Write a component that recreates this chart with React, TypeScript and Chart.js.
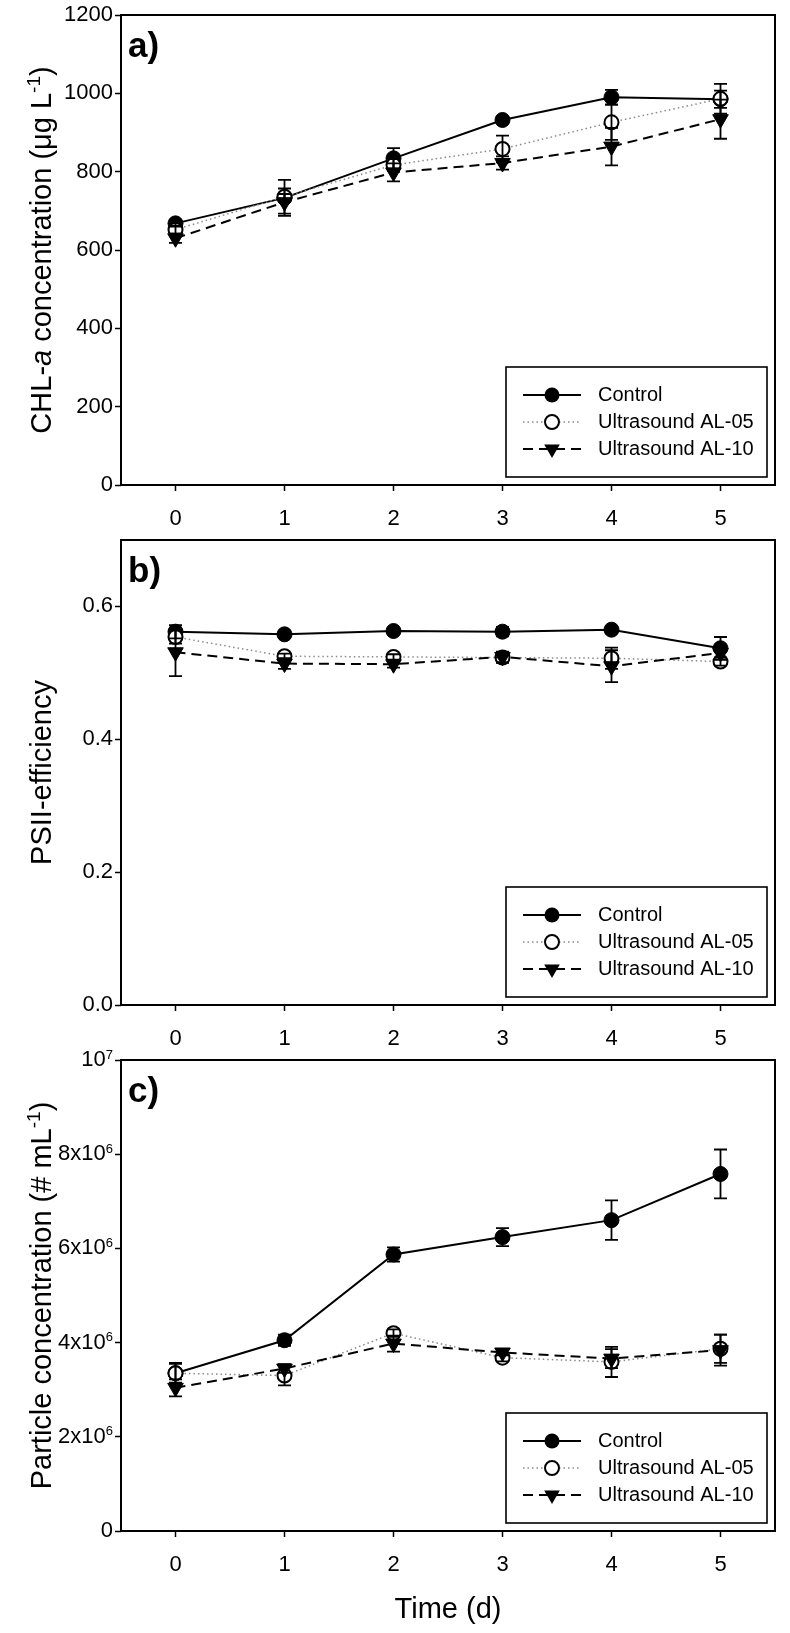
import React, { useEffect, useRef } from 'react';
import { Chart, registerables } from 'chart.js';

Chart.register(...registerables);

const FONT = '"Liberation Sans", Arial, Helvetica, sans-serif';

// ---------- data ----------
const DAYS = ['0', '1', '2', '3', '4', '5'];
const SERIES_NAMES = ['Control', 'Ultrasound AL-05', 'Ultrasound AL-10'];

// a) CHL-a concentration (µg/L)
const CHL_CONTROL = [668, 733, 834, 932, 990, 985];
const CHL_CONTROL_ERR = [8, 10, 26, 8, 19, 22];
const CHL_AL05 = [652, 736, 817, 858, 926, 986];
const CHL_AL05_ERR = [10, 43, 15, 34, 45, 38];
const CHL_AL10 = [630, 722, 798, 822, 864, 934];
const CHL_AL10_ERR = [12, 35, 23, 17, 48, 50];
const CHL_TICKS = [0, 200, 400, 600, 800, 1000, 1200];

// b) PSII efficiency
const PSII_CONTROL = [0.562, 0.558, 0.563, 0.562, 0.565, 0.537];
const PSII_CONTROL_ERR = [0.01, 0.004, 0.003, 0.007, 0.004, 0.017];
const PSII_AL05 = [0.554, 0.525, 0.524, 0.523, 0.522, 0.517];
const PSII_AL05_ERR = [0.01, 0.004, 0.004, 0.008, 0.016, 0.006];
const PSII_AL10 = [0.531, 0.514, 0.513, 0.524, 0.51, 0.53];
const PSII_AL10_ERR = [0.036, 0.008, 0.005, 0.008, 0.024, 0.01];
const PSII_TICKS = [0, 0.2, 0.4, 0.6];

// c) Particle concentration (#/mL)
const PART_CONTROL = [3.35e6, 4.05e6, 5.87e6, 6.24e6, 6.6e6, 7.58e6];
const PART_CONTROL_ERR = [0.2e6, 0.12e6, 0.15e6, 0.19e6, 0.42e6, 0.52e6];
const PART_AL05 = [3.35e6, 3.3e6, 4.2e6, 3.68e6, 3.59e6, 3.87e6];
const PART_AL05_ERR = [0.22e6, 0.21e6, 0.08e6, 0.08e6, 0.32e6, 0.3e6];
const PART_AL10 = [3.04e6, 3.45e6, 3.98e6, 3.79e6, 3.66e6, 3.84e6];
const PART_AL10_ERR = [0.18e6, 0.09e6, 0.17e6, 0.06e6, 0.2e6, 0.33e6];
const PART_TICKS = [0, 2e6, 4e6, 6e6, 8e6, 1e7];
const PART_TICK_BASE = ['0', '2x10', '4x10', '6x10', '8x10', '10'];
const PART_TICK_EXP = ['', '6', '6', '6', '6', '7'];

// ---------- styles ----------
type Seg = { t: string; italic?: boolean; sup?: boolean };

const SERIES_STYLE = [
  { kind: 'filled', line: '#000', dash: [] as number[], lw: 2 },
  { kind: 'open', line: '#8a8a8a', dash: [1.5, 3], lw: 1.5 },
  { kind: 'tri', line: '#000', dash: [10, 6], lw: 2 },
];

const PANELS = [
  {
    id: 'a',
    label: 'a)',
    top: 0,
    height: 530,
    padTop: 15,
    xAxisH: 45,
    yMax: 1200,
    ticks: CHL_TICKS,
    fmt: (v: number) => String(v),
    custom: false,
    title: [
      { t: 'CHL-' },
      { t: 'a', italic: true },
      { t: ' concentration (μg L' },
      { t: '-1', sup: true },
      { t: ')' },
    ] as Seg[],
    values: [CHL_CONTROL, CHL_AL05, CHL_AL10],
    errs: [CHL_CONTROL_ERR, CHL_AL05_ERR, CHL_AL10_ERR],
    xTitle: false,
  },
  {
    id: 'b',
    label: 'b)',
    top: 530,
    height: 530,
    padTop: 5,
    xAxisH: 55,
    yMax: 0.7,
    ticks: PSII_TICKS,
    fmt: (v: number) => v.toFixed(1),
    custom: false,
    title: [{ t: 'PSII-efficiency' }] as Seg[],
    values: [PSII_CONTROL, PSII_AL05, PSII_AL10],
    errs: [PSII_CONTROL_ERR, PSII_AL05_ERR, PSII_AL10_ERR],
    xTitle: false,
  },
  {
    id: 'c',
    label: 'c)',
    top: 1040,
    height: 593,
    padTop: 20,
    xAxisH: 102,
    yMax: 1e7,
    ticks: PART_TICKS,
    fmt: (v: number) => String(v),
    custom: true,
    title: [
      { t: 'Particle concentration (# mL' },
      { t: '-1', sup: true },
      { t: ')' },
    ] as Seg[],
    values: [PART_CONTROL, PART_AL05, PART_AL10],
    errs: [PART_CONTROL_ERR, PART_AL05_ERR, PART_AL10_ERR],
    xTitle: true,
  },
];

function font(size: number, bold = false, italic = false) {
  return `${italic ? 'italic ' : ''}${bold ? 'bold ' : ''}${size}px ${FONT}`;
}

function drawMarker(ctx: CanvasRenderingContext2D, kind: string, x: number, y: number) {
  ctx.save();
  ctx.setLineDash([]);
  if (kind === 'filled') {
    ctx.beginPath();
    ctx.arc(x, y, 7.5, 0, Math.PI * 2);
    ctx.fillStyle = '#000';
    ctx.fill();
  } else if (kind === 'open') {
    ctx.beginPath();
    ctx.arc(x, y, 7, 0, Math.PI * 2);
    ctx.fillStyle = '#fff';
    ctx.fill();
    ctx.lineWidth = 2;
    ctx.strokeStyle = '#000';
    ctx.stroke();
  } else {
    const r = 9;
    ctx.beginPath();
    ctx.moveTo(x - r * 0.866, y - r * 0.5);
    ctx.lineTo(x + r * 0.866, y - r * 0.5);
    ctx.lineTo(x, y + r);
    ctx.closePath();
    ctx.fillStyle = '#000';
    ctx.fill();
  }
  ctx.restore();
}

function drawRichRotated(ctx: CanvasRenderingContext2D, segs: Seg[], x: number, cy: number) {
  const base = 29;
  const sup = 19;
  ctx.save();
  ctx.translate(x, cy);
  ctx.rotate(-Math.PI / 2);
  ctx.fillStyle = '#000';
  ctx.textBaseline = 'alphabetic';
  ctx.textAlign = 'left';
  let total = 0;
  const widths = segs.map((s) => {
    ctx.font = font(s.sup ? sup : base, false, !!s.italic);
    const w = ctx.measureText(s.t).width;
    total += w;
    return w;
  });
  let cx = -total / 2;
  segs.forEach((s, i) => {
    ctx.font = font(s.sup ? sup : base, false, !!s.italic);
    ctx.fillText(s.t, cx, s.sup ? -11 : 0);
    cx += widths[i];
  });
  ctx.restore();
}

function PanelChart({ cfg }: { cfg: (typeof PANELS)[number] }) {
  const ref = useRef<HTMLCanvasElement>(null);

  useEffect(() => {
    const canvas = ref.current;
    if (!canvas) return;

    const deco = {
      id: 'deco' + cfg.id,
      afterDatasetsDraw(chart: any) {
        const ctx: CanvasRenderingContext2D = chart.ctx;
        const ys = chart.scales.y;
        ctx.save();
        ctx.strokeStyle = '#000';
        ctx.lineWidth = 1.8;
        ctx.setLineDash([]);
        cfg.values.forEach((vals, di) => {
          const meta = chart.getDatasetMeta(di);
          vals.forEach((v, i) => {
            const e = cfg.errs[di][i];
            const x = meta.data[i].x;
            const yt = ys.getPixelForValue(v + e);
            const yb = ys.getPixelForValue(v - e);
            ctx.beginPath();
            ctx.moveTo(x, yt);
            ctx.lineTo(x, yb);
            ctx.moveTo(x - 6.5, yt);
            ctx.lineTo(x + 6.5, yt);
            ctx.moveTo(x - 6.5, yb);
            ctx.lineTo(x + 6.5, yb);
            ctx.stroke();
          });
        });
        ctx.restore();
      },
      afterDraw(chart: any) {
        const ctx: CanvasRenderingContext2D = chart.ctx;
        const a = chart.chartArea;
        const ys = chart.scales.y;
        ctx.save();
        // frame
        ctx.strokeStyle = '#000';
        ctx.lineWidth = 2;
        ctx.setLineDash([]);
        ctx.strokeRect(a.left, a.top, a.right - a.left, a.bottom - a.top);

        // panel label
        ctx.fillStyle = '#000';
        ctx.font = font(35, true);
        ctx.textAlign = 'left';
        ctx.textBaseline = 'alphabetic';
        ctx.fillText(cfg.label, a.left + 7, a.top + 42);

        // y title
        drawRichRotated(ctx, cfg.title, 51, (a.top + a.bottom) / 2);

        // custom tick labels (panel c)
        if (cfg.custom) {
          PART_TICKS.forEach((v, i) => {
            const y = ys.getPixelForValue(v);
            const right = a.left - 8;
            ctx.textBaseline = 'middle';
            ctx.textAlign = 'left';
            ctx.font = font(13);
            const ew = PART_TICK_EXP[i] ? ctx.measureText(PART_TICK_EXP[i]).width : 0;
            ctx.font = font(22);
            const bw = ctx.measureText(PART_TICK_BASE[i]).width;
            ctx.fillText(PART_TICK_BASE[i], right - ew - bw, y);
            if (PART_TICK_EXP[i]) {
              ctx.font = font(13);
              ctx.fillText(PART_TICK_EXP[i], right - ew, y - 5);
            }
          });
        }

        // x title
        if (cfg.xTitle) {
          ctx.font = font(29);
          ctx.textAlign = 'center';
          ctx.textBaseline = 'middle';
          ctx.fillText('Time (d)', (a.left + a.right) / 2, 570);
        }

        // legend
        const bw = 261;
        const bh = 110;
        const bx = a.right - 8 - bw;
        const by = a.bottom - 8 - bh;
        ctx.fillStyle = '#fff';
        ctx.fillRect(bx, by, bw, bh);
        ctx.lineWidth = 1.6;
        ctx.strokeStyle = '#000';
        ctx.strokeRect(bx, by, bw, bh);
        SERIES_NAMES.forEach((name, i) => {
          const st = SERIES_STYLE[i];
          const y = by + 28 + i * 27;
          ctx.save();
          ctx.strokeStyle = st.line;
          ctx.lineWidth = st.lw;
          ctx.setLineDash(st.dash);
          ctx.beginPath();
          ctx.moveTo(bx + 17, y);
          ctx.lineTo(bx + 75, y);
          ctx.stroke();
          ctx.restore();
          drawMarker(ctx, st.kind, bx + 46, y);
          ctx.fillStyle = '#000';
          ctx.font = font(20);
          ctx.textAlign = 'left';
          ctx.textBaseline = 'middle';
          ctx.fillText(name, bx + 92, y);
        });
        ctx.restore();
      },
    };

    const gridCfg = {
      display: true,
      drawOnChartArea: false,
      drawTicks: true,
      tickLength: 6,
      tickWidth: 1.5,
      tickColor: '#000',
      offset: false,
    };

    const chart = new Chart(canvas, {
      type: 'line',
      data: {
        labels: DAYS,
        datasets: SERIES_NAMES.map((name, i) => {
          const st = SERIES_STYLE[i];
          return {
            label: name,
            data: cfg.values[i],
            order: 3 - i,
            borderColor: st.line,
            borderWidth: st.lw,
            borderDash: st.dash,
            tension: 0,
            fill: false,
            pointStyle: st.kind === 'tri' ? 'triangle' : 'circle',
            pointRotation: st.kind === 'tri' ? 180 : 0,
            pointRadius: st.kind === 'tri' ? 9 : st.kind === 'open' ? 7 : 7.5,
            pointBackgroundColor: st.kind === 'open' ? '#fff' : '#000',
            pointBorderColor: '#000',
            pointBorderWidth: st.kind === 'open' ? 2 : 1,
          };
        }),
      },
      options: {
        responsive: false,
        animation: false,
        events: [],
        layout: { padding: { top: cfg.padTop, right: 15, left: 0, bottom: 0 } },
        plugins: { legend: { display: false }, tooltip: { enabled: false } },
        scales: {
          x: {
            type: 'category',
            offset: true,
            grid: gridCfg,
            border: { display: false },
            ticks: {
              color: '#000',
              font: { size: 22, family: FONT },
              padding: 15,
              maxRotation: 0,
              autoSkip: false,
            },
            afterFit: (s: any) => {
              s.height = cfg.xAxisH;
              s.paddingLeft = 0;
              s.paddingRight = 0;
            },
          },
          y: {
            type: 'linear',
            min: 0,
            max: cfg.yMax,
            afterBuildTicks: (s: any) => {
              s.ticks = cfg.ticks.map((v) => ({ value: v }));
            },
            grid: gridCfg,
            border: { display: false },
            ticks: {
              display: !cfg.custom,
              color: '#000',
              font: { size: 22, family: FONT },
              padding: 2,
              callback: (v: any) => cfg.fmt(Number(v)),
            },
            afterFit: (s: any) => {
              s.width = 121;
              s.paddingTop = 0;
              s.paddingBottom = 0;
            },
          },
        },
      },
      plugins: [deco],
    } as any);

    return () => chart.destroy();
  }, [cfg]);

  return (
    <div style={{ position: 'absolute', left: 0, top: cfg.top, width: 790, height: cfg.height }}>
      <canvas ref={ref} width={790} height={cfg.height} style={{ width: 790, height: cfg.height, display: 'block' }} />
    </div>
  );
}

export default function App() {
  return (
    <div style={{ position: 'absolute', left: 0, top: 0, width: 790, height: 1633, background: '#fff' }}>
      {PANELS.map((p) => (
        <PanelChart key={p.id} cfg={p} />
      ))}
    </div>
  );
}
